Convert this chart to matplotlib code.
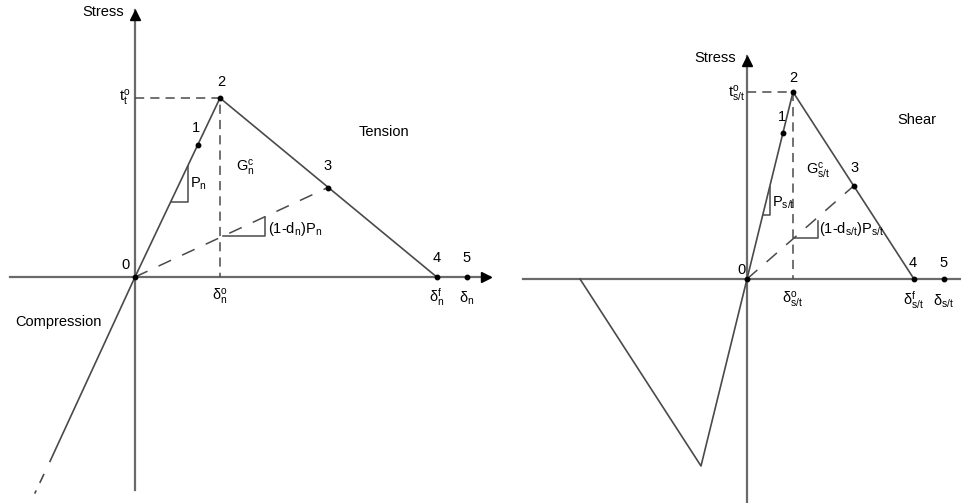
import matplotlib
matplotlib.use('Agg')
import matplotlib.pyplot as plt

plt.rcParams['font.family'] = ['Liberation Sans', 'DejaVu Sans']
plt.rcParams['mathtext.fontset'] = 'custom'
plt.rcParams['mathtext.rm'] = 'Liberation Sans'
plt.rcParams['mathtext.it'] = 'Liberation Sans:italic'

# traction-separation laws, scaled so that delta_o = 1 and t_o = 1
# points 0..5 on the tension side
ten_delta = [0.0, 0.74, 1.0, 2.27, 3.55, 3.9]
ten_stress = [0.0, 0.74, 1.0, 0.50, 0.0, 0.0]
comp_delta = [0.0, -1.0]
comp_stress = [0.0, -1.03]
comp_tail_delta = [-1.07, -1.18]
comp_tail_stress = [-1.10, -1.21]

# points 0..5 on the shear side
shr_delta = [0.0, 0.78, 1.0, 2.33, 3.63, 4.28]
shr_stress = [0.0, 0.78, 1.0, 0.50, 0.0, 0.0]
neg_delta = [0.0, -1.0, -3.63]
neg_stress = [0.0, -1.0, 0.0]

point_names = ['0', '1', '2', '3', '4', '5']

W, H = 961, 503
fig = plt.figure(figsize=(W / 100, H / 100), dpi=100)

AX_C = '#6a6a6a'
LN_C = '#4a4a4a'
FS = 10.5


def panel(ox, oy, ux, uy, name):
    # one axes over the whole figure, origin of the law at pixel (ox, oy)
    ax = fig.add_axes([0, 0, 1, 1], label=name)
    ax.set_xlim(-ox / ux, (W - ox) / ux)
    ax.set_ylim(-(H - oy) / uy, oy / uy)
    ax.axis('off')
    ax.patch.set_alpha(0)
    return ax


def draw_law(ax, d, s, tag, xaxis, yaxis, arrow_x, offs):
    # axes
    ax.plot(xaxis, [0, 0], color=AX_C, lw=1.6, zorder=1)
    ax.plot([0, 0], yaxis, color=AX_C, lw=1.6, zorder=1)
    ax.plot([0], [yaxis[1] - 0.025], marker='^', ms=7, color='k', zorder=3)
    if arrow_x:
        ax.plot([xaxis[1] - 0.05], [0], marker='>', ms=7, color='k', zorder=3)

    # loading / softening branch
    ax.plot([d[0], d[2], d[4]], [s[0], s[2], s[4]], color=LN_C, lw=1.2, zorder=2)
    # unloading line to point 3
    ax.plot([d[0], d[3]], [s[0], s[3]], color=LN_C, lw=1.1,
            dashes=(9, 8), zorder=2)
    # projections of the peak
    ax.plot([0, d[2], d[2]], [s[2], s[2], 0], color=LN_C, lw=1.1,
            dashes=(6, 4), zorder=2)
    ax.plot(d, s, 'o', ms=3.2, color='k', zorder=4)

    for i, nm in enumerate(point_names):
        ax.annotate(nm, (d[i], s[i]), xytext=offs[i], textcoords='offset pixels',
                    ha='center', va='center', fontsize=FS)

    ax.text(d[2], -0.11, r'$\mathregular{\delta_{%s}^o}$' % tag,
            ha='center', va='center', fontsize=FS)
    ax.text(d[4], -0.11, r'$\mathregular{\delta_{%s}^f}$' % tag,
            ha='center', va='center', fontsize=FS)
    ax.text(d[5], -0.12, r'$\mathregular{\delta_{%s}}$' % tag,
            ha='center', va='center', fontsize=FS)


# ---------------- normal (tension / compression) ----------------
axL = panel(135, 277, 85, 179, 'normal')
draw_law(axL, ten_delta, ten_stress, 'n', [-1.47, 4.18], [-1.19, 1.49], True,
         [(-9, 12), (-2, 17), (1, 16), (0, 21), (0, 19), (0, 19)])
axL.plot(comp_delta, comp_stress, color=LN_C, lw=1.2, zorder=2)
axL.plot(comp_tail_delta, comp_tail_stress, color=LN_C, lw=1.2,
         dashes=(6, 5), zorder=2)

axL.text(-0.13, 1.48, 'Stress', ha='right', va='center', fontsize=FS)
axL.text(-0.05, 1.0, r'$\mathregular{t_t^o}$', ha='right', va='center', fontsize=FS)
axL.text(1.3, 0.61, r'$\mathregular{G_n^c}$', ha='center', va='center', fontsize=FS)
axL.text(2.93, 0.81, 'Tension', ha='center', va='center', fontsize=FS)
axL.text(-1.41, -0.25, 'Compression', ha='left', va='center', fontsize=FS)

# slope triangles
axL.plot([0.42, 0.62, 0.62], [0.42, 0.42, 0.62], color=LN_C, lw=1.1)
axL.text(0.65, 0.52, r'$\mathregular{P_n}$', ha='left', va='center', fontsize=FS)
axL.plot([1.035, 1.53, 1.53], [0.229, 0.229, 0.337], color=LN_C, lw=1.1)
axL.text(1.56, 0.27, r'(1-d$_{\mathregular{n}}$)P$_{\mathregular{n}}$',
         ha='left', va='center', fontsize=FS)

# ---------------- shear ----------------
axR = panel(747, 279, 46, 187, 'shear')
draw_law(axR, shr_delta, shr_stress, 's/t', [-4.87, 4.66], [-1.19, 1.19], False,
         [(-6, 9), (-1, 16), (0, 14), (0, 17), (-1, 16), (0, 16)])
axR.plot(neg_delta, neg_stress, color=LN_C, lw=1.2, zorder=2)

axR.text(-0.25, 1.18, 'Stress', ha='right', va='center', fontsize=FS)
axR.text(-0.05, 0.99, r'$\mathregular{t_{s/t}^o}$', ha='right', va='center',
         fontsize=FS)
axR.text(1.55, 0.58, r'$\mathregular{G_{s/t}^c}$', ha='center', va='center',
         fontsize=FS)
axR.text(3.69, 0.85, 'Shear', ha='center', va='center', fontsize=FS)

axR.plot([0.34, 0.5, 0.5], [0.34, 0.34, 0.49], color=LN_C, lw=1.1)
axR.text(0.55, 0.41, r'$\mathregular{P_{s/t}}$', ha='left', va='center',
         fontsize=FS)
axR.plot([1.02, 1.54, 1.54], [0.22, 0.22, 0.31], color=LN_C, lw=1.1)
axR.text(1.57, 0.27, r'(1-d$_{\mathregular{s/t}}$)P$_{\mathregular{s/t}}$',
         ha='left', va='center', fontsize=FS)

fig.savefig('out.png', dpi=100)
